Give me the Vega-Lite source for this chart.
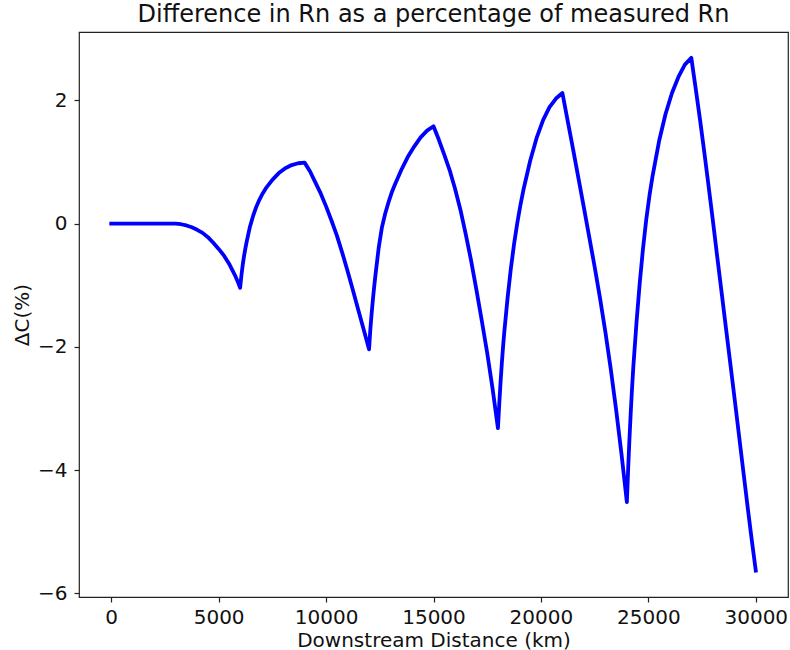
{
  "$schema": "https://vega.github.io/schema/vega-lite/v6.json",
  "width": 709,
  "height": 565,
  "autosize": {"type": "none"},
  "padding": {"left": 79, "top": 32, "right": 2, "bottom": 53},
  "background": "white",
  "config": {"font": "DejaVu Sans", "view": {"stroke": "#222", "strokeWidth": 1.2}},
  "title": {"text": "Difference in Rn as a percentage of measured Rn", "fontSize": 24, "fontWeight": "normal", "color": "#111", "anchor": "middle", "offset": 5, "font": "DejaVu Sans"},
  "data": {"values": [
    {"d": 0, "c": 0}, {"d": 1000, "c": 0}, {"d": 2000, "c": 0}, {"d": 3000, "c": 0},
    {"d": 3250, "c": -0.01}, {"d": 3500, "c": -0.03}, {"d": 3750, "c": -0.06}, {"d": 4000, "c": -0.10},
    {"d": 4250, "c": -0.15}, {"d": 4500, "c": -0.22}, {"d": 4750, "c": -0.31}, {"d": 5000, "c": -0.41},
    {"d": 5250, "c": -0.52}, {"d": 5500, "c": -0.66}, {"d": 5750, "c": -0.83}, {"d": 5875, "c": -0.93}, {"d": 6000, "c": -1.04},
    {"d": 6060, "c": -0.84}, {"d": 6120, "c": -0.67}, {"d": 6180, "c": -0.53}, {"d": 6240, "c": -0.41},
    {"d": 6300, "c": -0.30}, {"d": 6450, "c": -0.06}, {"d": 6600, "c": 0.12}, {"d": 6750, "c": 0.27},
    {"d": 6900, "c": 0.39}, {"d": 7050, "c": 0.49}, {"d": 7200, "c": 0.575}, {"d": 7500, "c": 0.71},
    {"d": 7800, "c": 0.82}, {"d": 8100, "c": 0.90}, {"d": 8400, "c": 0.95}, {"d": 8700, "c": 0.98},
    {"d": 9000, "c": 0.99},
    {"d": 9250, "c": 0.85}, {"d": 9500, "c": 0.67}, {"d": 9750, "c": 0.49}, {"d": 10000, "c": 0.28},
    {"d": 10250, "c": 0.05}, {"d": 10500, "c": -0.19}, {"d": 10750, "c": -0.47}, {"d": 11000, "c": -0.77},
    {"d": 11250, "c": -1.08}, {"d": 11500, "c": -1.40}, {"d": 11750, "c": -1.72}, {"d": 12000, "c": -2.04},
    {"d": 12060, "c": -1.72}, {"d": 12120, "c": -1.46}, {"d": 12180, "c": -1.23}, {"d": 12240, "c": -1.02},
    {"d": 12300, "c": -0.83}, {"d": 12450, "c": -0.39}, {"d": 12600, "c": -0.06}, {"d": 12750, "c": 0.16},
    {"d": 12900, "c": 0.34}, {"d": 13050, "c": 0.50}, {"d": 13200, "c": 0.63}, {"d": 13500, "c": 0.87},
    {"d": 13800, "c": 1.08}, {"d": 14100, "c": 1.25}, {"d": 14400, "c": 1.40}, {"d": 14700, "c": 1.51},
    {"d": 15000, "c": 1.58},
    {"d": 15250, "c": 1.36}, {"d": 15500, "c": 1.12}, {"d": 15750, "c": 0.87}, {"d": 16000, "c": 0.57},
    {"d": 16250, "c": 0.23}, {"d": 16500, "c": -0.17}, {"d": 16750, "c": -0.60}, {"d": 17000, "c": -1.08},
    {"d": 17250, "c": -1.58}, {"d": 17500, "c": -2.10}, {"d": 17750, "c": -2.68}, {"d": 18000, "c": -3.32},
    {"d": 18060, "c": -2.93}, {"d": 18120, "c": -2.58}, {"d": 18180, "c": -2.27}, {"d": 18240, "c": -1.99},
    {"d": 18300, "c": -1.74}, {"d": 18450, "c": -1.20}, {"d": 18600, "c": -0.73}, {"d": 18750, "c": -0.33},
    {"d": 18900, "c": 0.01}, {"d": 19050, "c": 0.31}, {"d": 19200, "c": 0.57}, {"d": 19500, "c": 1.02},
    {"d": 19800, "c": 1.39}, {"d": 20100, "c": 1.68}, {"d": 20400, "c": 1.89}, {"d": 20700, "c": 2.03},
    {"d": 21000, "c": 2.12},
    {"d": 21250, "c": 1.66}, {"d": 21500, "c": 1.20}, {"d": 21750, "c": 0.73}, {"d": 22000, "c": 0.26},
    {"d": 22250, "c": -0.22}, {"d": 22500, "c": -0.70}, {"d": 22750, "c": -1.21}, {"d": 23000, "c": -1.76},
    {"d": 23250, "c": -2.36}, {"d": 23500, "c": -3.02}, {"d": 23750, "c": -3.74}, {"d": 24000, "c": -4.52},
    {"d": 24060, "c": -3.98}, {"d": 24120, "c": -3.50}, {"d": 24180, "c": -3.07}, {"d": 24240, "c": -2.68},
    {"d": 24300, "c": -2.33}, {"d": 24450, "c": -1.60}, {"d": 24600, "c": -0.96}, {"d": 24750, "c": -0.41},
    {"d": 24900, "c": 0.06}, {"d": 25050, "c": 0.45}, {"d": 25200, "c": 0.78}, {"d": 25500, "c": 1.34},
    {"d": 25800, "c": 1.78}, {"d": 26100, "c": 2.12}, {"d": 26400, "c": 2.38}, {"d": 26700, "c": 2.58},
    {"d": 27000, "c": 2.69},
    {"d": 27200, "c": 2.20}, {"d": 27400, "c": 1.70}, {"d": 27600, "c": 1.17}, {"d": 27800, "c": 0.62},
    {"d": 28000, "c": 0.06}, {"d": 28200, "c": -0.52}, {"d": 28400, "c": -1.09}, {"d": 28600, "c": -1.66},
    {"d": 28800, "c": -2.23}, {"d": 29000, "c": -2.80}, {"d": 29200, "c": -3.38}, {"d": 29400, "c": -3.96},
    {"d": 29600, "c": -4.54}, {"d": 29800, "c": -5.10}, {"d": 30000, "c": -5.63}
  ]},
  "mark": {"type": "line", "color": "#0000ff", "strokeWidth": 3.8, "strokeJoin": "round", "strokeCap": "square"},
  "encoding": {
    "x": {
      "field": "d", "type": "quantitative",
      "scale": {"domain": [-1500, 31500], "nice": false, "zero": false},
      "axis": {
        "values": [0, 5000, 10000, 15000, 20000, 25000, 30000], "format": "d",
        "title": "Downstream Distance (km)", "grid": false, "domain": false,
        "tickColor": "#222", "tickSize": 5, "tickWidth": 1.2,
        "labelFontSize": 20, "labelColor": "#111", "labelPadding": 5, "labelFlush": false, "labelOverlap": false,
        "titleFontSize": 20, "titleFontWeight": "normal", "titleColor": "#111", "titlePadding": 3
      }
    },
    "y": {
      "field": "c", "type": "quantitative",
      "scale": {"domain": [-6.06, 3.11], "nice": false, "zero": false},
      "axis": {
        "values": [-6, -4, -2, 0, 2], "format": "d",
        "title": "ΔC(%)", "grid": false, "domain": false,
        "tickColor": "#222", "tickSize": 5, "tickWidth": 1.2,
        "labelFontSize": 20, "labelColor": "#111", "labelPadding": 7, "labelFlush": false, "labelOverlap": false,
        "titleFontSize": 20, "titleFontWeight": "normal", "titleColor": "#111", "titlePadding": 5
      }
    }
  }
}
